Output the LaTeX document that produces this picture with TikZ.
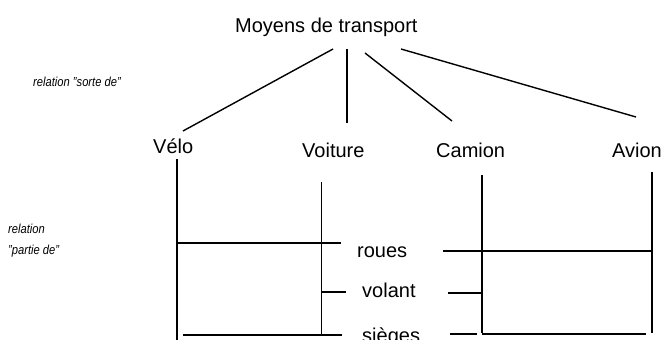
\documentclass[tikz,border=0pt]{standalone}
\usepackage{fontspec}
\setmainfont{Liberation Sans}
\begin{document}
\begin{tikzpicture}[x=1pt,y=-1pt,
  lbl/.style={anchor=base west,inner sep=0pt,font=\fontsize{20}{22}\selectfont},
  note/.style={anchor=base west,inner sep=0pt,font=\fontsize{13}{15}\selectfont\itshape},
  ln/.style={line width=1.4pt}]
\useasboundingbox (0,0) rectangle (665,340);
% labels
\node[lbl] (root) at (235,32) {Moyens de transport};
\node[lbl] (velo) at (153,153) {Vélo};
\node[lbl] (voit) at (302,157) {Voiture};
\node[lbl] (cam) at (436,157) {Camion};
\node[lbl] (avi) at (612,157) {Avion};
\node[lbl] (roues) at (357,257) {roues};
\node[lbl] (volant) at (362,297) {volant};
\node[lbl] (sieges) at (362,342) {sièges};
\node[note] (sorte) at (33,86) {\scalebox{0.86}[1]{relation "sorte de"}};
\node[note] (rel) at (8,233) {\scalebox{0.86}[1]{relation}};
\node[note] (partie) at (8,254) {\scalebox{0.86}[1]{"partie de"}};
% coordinates
\coordinate (r1) at (333,49);
\coordinate (r2) at (347,49);
\coordinate (r3) at (365,53);
\coordinate (r4) at (401,49);
\coordinate (e1) at (183,131);
\coordinate (e2) at (347,123);
\coordinate (e3) at (452,121);
\coordinate (e4) at (636,117);
\coordinate (vt) at (177,159);
\coordinate (vb) at (177,345);
\coordinate (ot) at (321.5,182);
\coordinate (ob) at (321.5,335);
\coordinate (ct) at (482,175);
\coordinate (cb) at (482,333);
\coordinate (at) at (652,172);
\coordinate (ab) at (652,333);
\coordinate (rl1) at (177,243);
\coordinate (rl2) at (341,243);
\coordinate (rr1) at (443,251);
\coordinate (rr2) at (652,251);
\coordinate (vl1) at (321.5,292);
\coordinate (vl2) at (346,292);
\coordinate (vr1) at (448,293);
\coordinate (vr2) at (482,293);
\coordinate (sl1) at (183,335);
\coordinate (sl2) at (342,335);
\coordinate (sd1) at (450,334);
\coordinate (sd2) at (477,334);
\coordinate (sr1) at (482,334);
\coordinate (sr2) at (646,334);
% "sorte de" links
\draw[ln] (r1) -- (e1);
\draw[ln] (r2) -- (e2);
\draw[ln] (r3) -- (e3);
\draw[ln] (r4) -- (e4);
% "partie de" links
\draw[ln] (vt) -- (vb);
\draw[ln] (ot) -- (ob);
\draw[ln] (ct) -- (cb);
\draw[ln] (at) -- (ab);
\draw[ln] (rl1) -- (rl2);
\draw[ln] (rr1) -- (rr2);
\draw[ln] (vl1) -- (vl2);
\draw[ln] (vr1) -- (vr2);
\draw[ln] (sl1) -- (sl2);
\draw[ln] (sd1) -- (sd2);
\draw[ln] (sr1) -- (sr2);
\end{tikzpicture}
\end{document}
